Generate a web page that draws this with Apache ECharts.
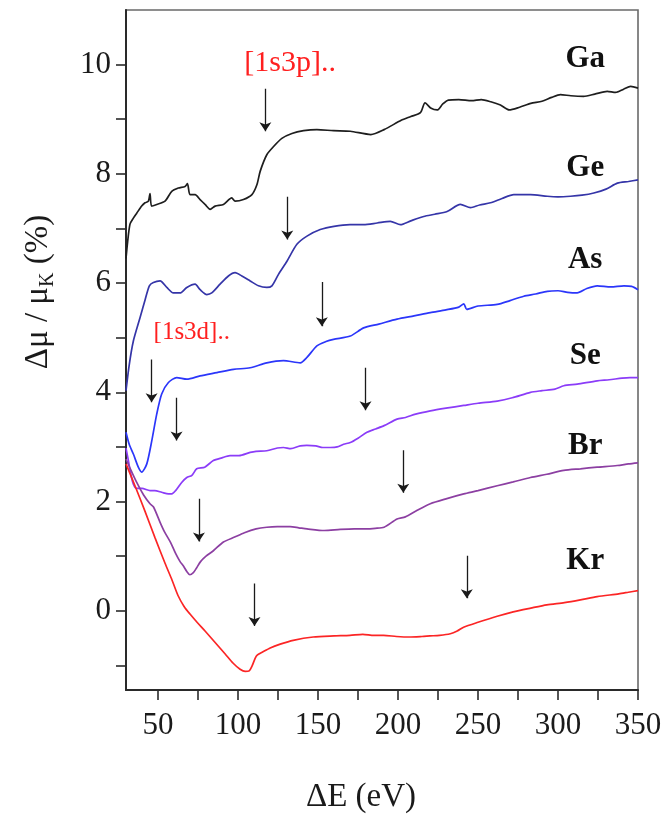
<!DOCTYPE html>
<html>
<head>
<meta charset="utf-8">
<script src="https://cdn.jsdelivr.net/npm/echarts@6/dist/echarts.min.js"></script>
<style>
  html, body { margin: 0; padding: 0; background: #fff; }
  #chart { width: 666px; height: 821px; }
</style>
</head>
<body>
<div id="chart"></div>
<script>
// Relative change of the K-shell absorption, Δμ/μK (%), versus energy above the edge ΔE (eV)
const energyGa = [30, 31, 32.5, 34.6, 36.7, 39.8, 41.9, 44, 45, 46, 49.2, 54.4, 58.6, 62.7, 66.9, 68.4, 70, 73.2, 76.3, 79.4, 82.6, 85.7, 90.9, 96.1, 98.2, 103.4, 108.7, 111.8, 113.9, 118, 122.2, 127.4, 133.7, 141, 149.3, 159.7, 170.2, 183, 191.3, 202, 208, 214, 216.9, 220.7, 224.5, 228, 231.5, 238, 246, 252, 258, 264, 269.5, 276, 283, 290, 296, 301.5, 308, 316, 323, 330.8, 336, 341, 345.4, 350];
const deltaGa = [6.45, 6.75, 7.08, 7.19, 7.28, 7.41, 7.47, 7.5, 7.64, 7.41, 7.44, 7.5, 7.68, 7.74, 7.77, 7.82, 7.62, 7.62, 7.53, 7.44, 7.35, 7.41, 7.44, 7.56, 7.5, 7.53, 7.62, 7.8, 8.05, 8.35, 8.5, 8.65, 8.74, 8.79, 8.81, 8.79, 8.78, 8.72, 8.81, 8.98, 9.05, 9.12, 9.3, 9.2, 9.17, 9.28, 9.35, 9.36, 9.34, 9.36, 9.32, 9.26, 9.17, 9.22, 9.29, 9.33, 9.4, 9.45, 9.43, 9.42, 9.46, 9.51, 9.49, 9.55, 9.6, 9.57];

const energyGe = [30, 32, 34.6, 38.8, 42, 44.6, 47.1, 51.3, 55.5, 59.6, 63.8, 68, 73.2, 76.3, 80.5, 83.6, 88.8, 94, 98.2, 102.4, 107.6, 112.8, 118, 121.2, 125.3, 130.6, 136.8, 143.1, 151.4, 160, 170, 178.5, 187, 195.2, 201.5, 208, 216.1, 223, 230.7, 239, 245.3, 251, 257.8, 265, 272.4, 282.8, 293.3, 300, 307.8, 315, 322.4, 330, 337.1, 344, 350];
const deltaGe = [4.03, 4.5, 4.94, 5.37, 5.7, 5.95, 6.01, 6.04, 5.92, 5.82, 5.82, 5.92, 5.98, 5.88, 5.79, 5.82, 5.98, 6.13, 6.19, 6.13, 6.04, 5.95, 5.92, 5.95, 6.16, 6.4, 6.71, 6.86, 6.98, 7.04, 7.07, 7.07, 7.1, 7.13, 7.07, 7.14, 7.22, 7.26, 7.31, 7.44, 7.38, 7.43, 7.47, 7.55, 7.62, 7.62, 7.59, 7.58, 7.59, 7.61, 7.65, 7.72, 7.83, 7.86, 7.89];

const energyAs = [30, 32, 34.6, 37.7, 39.8, 43, 46.1, 49.2, 52.3, 56.5, 61.7, 68, 76.3, 86.8, 97.2, 107.6, 118, 128.4, 138.9, 143.1, 149.3, 155, 159.7, 170.2, 178.5, 188, 199.4, 210, 220.2, 230, 238, 241.1, 243, 250, 262, 270, 278.6, 286, 293.3, 300, 306, 312, 318, 324.5, 333, 341.2, 346, 350];
const deltaAs = [3.27, 3.05, 2.87, 2.63, 2.54, 2.69, 3.11, 3.6, 3.97, 4.18, 4.27, 4.24, 4.3, 4.36, 4.42, 4.45, 4.54, 4.58, 4.54, 4.64, 4.85, 4.93, 4.97, 5.03, 5.18, 5.25, 5.34, 5.4, 5.46, 5.51, 5.56, 5.62, 5.52, 5.58, 5.61, 5.68, 5.76, 5.8, 5.85, 5.86, 5.83, 5.82, 5.9, 5.95, 5.93, 5.95, 5.94, 5.88];

const energySe = [30, 31.5, 33, 34.6, 36.7, 40, 45, 48, 52.3, 56.5, 58.6, 61, 64.8, 68, 71.2, 74.2, 79.2, 84.6, 89.9, 95, 100.6, 107.6, 111.3, 118, 124.6, 128.4, 133, 138.9, 143, 148.6, 153, 157.7, 162, 166, 170.2, 175, 180.6, 186, 191.3, 199.4, 204.7, 211, 220.2, 230, 241.1, 250, 262, 271.4, 282.8, 290, 298.1, 303.6, 312, 324.5, 332, 340, 345, 350];
const deltaSe = [2.98, 2.75, 2.5, 2.32, 2.24, 2.24, 2.2, 2.2, 2.17, 2.14, 2.14, 2.2, 2.35, 2.44, 2.48, 2.6, 2.63, 2.75, 2.8, 2.84, 2.84, 2.9, 2.92, 2.93, 2.98, 2.99, 2.97, 3.02, 3.03, 3.02, 2.99, 2.99, 3.0, 3.05, 3.08, 3.16, 3.27, 3.33, 3.39, 3.51, 3.54, 3.6, 3.66, 3.71, 3.76, 3.8, 3.84, 3.9, 4.0, 4.03, 4.06, 4.12, 4.15, 4.21, 4.23, 4.26, 4.27, 4.27];

const energyBr = [30, 33, 36.7, 41, 45, 47.2, 51.3, 54, 57.9, 61, 63.8, 65.9, 68, 69.9, 72.1, 74, 76.6, 80, 84.6, 90.9, 97.9, 104, 111.3, 118, 124.6, 132.6, 138, 143.1, 153.9, 163.9, 172.7, 180, 185.8, 191.3, 199.4, 204.6, 212, 220.2, 230, 241.1, 250, 262, 272, 282.8, 293, 303.6, 314, 324.5, 337, 344, 350];
const deltaBr = [2.78, 2.58, 2.35, 2.12, 1.96, 1.9, 1.62, 1.45, 1.25, 1.05, 0.9, 0.82, 0.72, 0.66, 0.7, 0.78, 0.9, 1.0, 1.1, 1.26, 1.35, 1.43, 1.5, 1.53, 1.54, 1.54, 1.52, 1.5, 1.47, 1.49, 1.5, 1.5, 1.51, 1.53, 1.68, 1.72, 1.84, 1.96, 2.05, 2.14, 2.2, 2.29, 2.36, 2.44, 2.5, 2.57, 2.6, 2.63, 2.66, 2.69, 2.71];

const energyKr = [30, 35.6, 41.9, 48.1, 54.4, 58.8, 62.5, 66.3, 70, 74.4, 79.4, 85.7, 92, 97, 101.3, 104.5, 107, 108.8, 110.7, 112, 115.1, 120.1, 126.4, 134.5, 147, 160, 170, 178, 185, 191, 199, 207, 215, 220, 226, 232.7, 237, 241, 250, 262, 272, 283, 293, 304, 314, 324.5, 338, 344, 350];
const deltaKr = [2.69, 2.29, 1.82, 1.34, 0.87, 0.56, 0.28, 0.08, -0.06, -0.21, -0.37, -0.58, -0.79, -0.96, -1.07, -1.11, -1.1, -1.01, -0.87, -0.81, -0.76, -0.68, -0.61, -0.54, -0.48, -0.46, -0.45, -0.43, -0.45, -0.45, -0.47, -0.48, -0.47, -0.46, -0.45, -0.42, -0.37, -0.3, -0.21, -0.1, -0.02, 0.05, 0.11, 0.15, 0.2, 0.26, 0.31, 0.34, 0.37];

// Element names and where each one is written
const elementNames = ['Ga', 'Ge', 'As', 'Se', 'Br', 'Kr'];
const elementLabelE = [317, 317, 317, 317, 317, 317];
const elementLabelY = [10.11, 8.10, 6.42, 4.67, 3.02, 0.92];

// Double-excitation edge annotations
const edgeNames = ['[1s3p]..', '[1s3d]..'];
const edgeLabelE = [132.6, 71.1];
const edgeLabelY = [10.03, 5.09];
const edgeFontSize = [30, 25];

// Arrows marking the onset energies: position, top and tip values
const arrowE = [117.1, 130.8, 152.4, 46.0, 61.6, 75.6, 110.3, 179.7, 203.3, 243.0];
const arrowTop = [9.56, 7.58, 6.02, 4.60, 3.90, 2.05, 0.50, 4.45, 2.94, 1.01];
const arrowTip = [8.78, 6.80, 5.21, 3.82, 3.12, 1.27, -0.28, 3.67, 2.16, 0.23];

// X and Y tick positions
const xTickValues = [50, 75, 100, 125, 150, 175, 200, 225, 250, 275, 300, 325, 350];
const xLabelValues = [50, 100, 150, 200, 250, 300, 350];
const yTickValues = [-1, 0, 1, 2, 3, 4, 5, 6, 7, 8, 9, 10];
const yLabelValues = [0, 2, 4, 6, 8, 10];

const serif = '"Liberation Serif", "Times New Roman", serif';
const zip = (xs, ys) => xs.map((x, i) => [x, ys[i]]);

const curves = [
  { name: 'Ga', color: '#1e1e1e', e: energyGa, d: deltaGa },
  { name: 'Ge', color: '#3535a8', e: energyGe, d: deltaGe },
  { name: 'As', color: '#2b36fa', e: energyAs, d: deltaAs },
  { name: 'Se', color: '#8b3cf8', e: energySe, d: deltaSe },
  { name: 'Br', color: '#8c3fa2', e: energyBr, d: deltaBr },
  { name: 'Kr', color: '#fb2525', e: energyKr, d: deltaKr }
];

const series = curves.map(c => ({
  name: c.name,
  type: 'line',
  data: zip(c.e, c.d),
  showSymbol: false,
  smooth: 0.25,
  lineStyle: { color: c.color, width: 1.7 },
  silent: true,
  z: 3
}));

series.push({
  name: 'onset',
  type: 'lines',
  coordinateSystem: 'cartesian2d',
  data: arrowE.map((e, i) => ({ coords: [[e, arrowTop[i]], [e, arrowTip[i]]] })),
  symbol: ['none', 'arrow'],
  symbolSize: [6, 9],
  lineStyle: { color: '#1a1a1a', width: 1.3, opacity: 1 },
  silent: true,
  z: 4
});

// Text placed in data coordinates through the axes
function textSeries(name, names, xs, ys, styleFor) {
  return {
    name: name,
    type: 'custom',
    coordinateSystem: 'cartesian2d',
    data: xs.map((x, i) => [x, ys[i]]),
    renderItem: function (params, api) {
      const p = api.coord([api.value(0), api.value(1)]);
      const s = styleFor(params.dataIndex);
      return {
        type: 'text', x: p[0], y: p[1],
        style: Object.assign({ text: names[params.dataIndex], align: 'center', verticalAlign: 'middle' }, s)
      };
    },
    silent: true,
    clip: false,
    z: 5
  };
}

series.push(textSeries('element', elementNames, elementLabelE, elementLabelY, () => ({
  font: 'bold 31px ' + serif, fill: '#111111'
})));
series.push(textSeries('edge', edgeNames, edgeLabelE, edgeLabelY, i => ({
  font: edgeFontSize[i] + 'px ' + serif, fill: '#ff1f1f'
})));

const chart = echarts.init(document.getElementById('chart'), null, { renderer: 'canvas' });
chart.setOption({
  animation: false,
  backgroundColor: '#ffffff',
  grid: {
    left: 126, right: 28, top: 10, bottom: 131,
    show: true, borderColor: '#6a6a6a', borderWidth: 1.6, backgroundColor: 'transparent'
  },
  xAxis: {
    type: 'value', min: 30, max: 350,
    axisLine: { show: true, onZero: false, lineStyle: { color: '#2a2a2a', width: 2 } },
    axisTick: { show: true, inside: false, length: 10, customValues: xTickValues, lineStyle: { color: '#2a2a2a', width: 1.6 } },
    axisLabel: { customValues: xLabelValues, margin: 20, color: '#1a1a1a', fontFamily: serif, fontSize: 31 },
    splitLine: { show: false }
  },
  yAxis: {
    type: 'value', min: -1.45, max: 11,
    axisLine: { show: true, onZero: false, lineStyle: { color: '#2a2a2a', width: 2 } },
    axisTick: { show: true, inside: false, length: 10, customValues: yTickValues, lineStyle: { color: '#2a2a2a', width: 1.6 } },
    axisLabel: { customValues: yLabelValues, margin: 15, color: '#1a1a1a', fontFamily: serif, fontSize: 31 },
    splitLine: { show: false }
  },
  graphic: [
    {
      type: 'text', x: 361, y: 797,
      style: { text: 'ΔE (eV)', font: '33px ' + serif, fill: '#1a1a1a', align: 'center', verticalAlign: 'middle' }
    },
    {
      type: 'text', x: 38, y: 292, rotation: Math.PI / 2,
      style: {
        text: '{a|Δμ / μ}{b|K}{a| (%)}',
        align: 'center', verticalAlign: 'middle',
        rich: {
          a: { fontFamily: serif, fontSize: 33, fill: '#1a1a1a', lineHeight: 40 },
          b: { fontFamily: serif, fontSize: 20, fill: '#1a1a1a', lineHeight: 40, padding: [20, 0, 0, 0] }
        }
      }
    }
  ],
  series: series
});
</script>
</body>
</html>
